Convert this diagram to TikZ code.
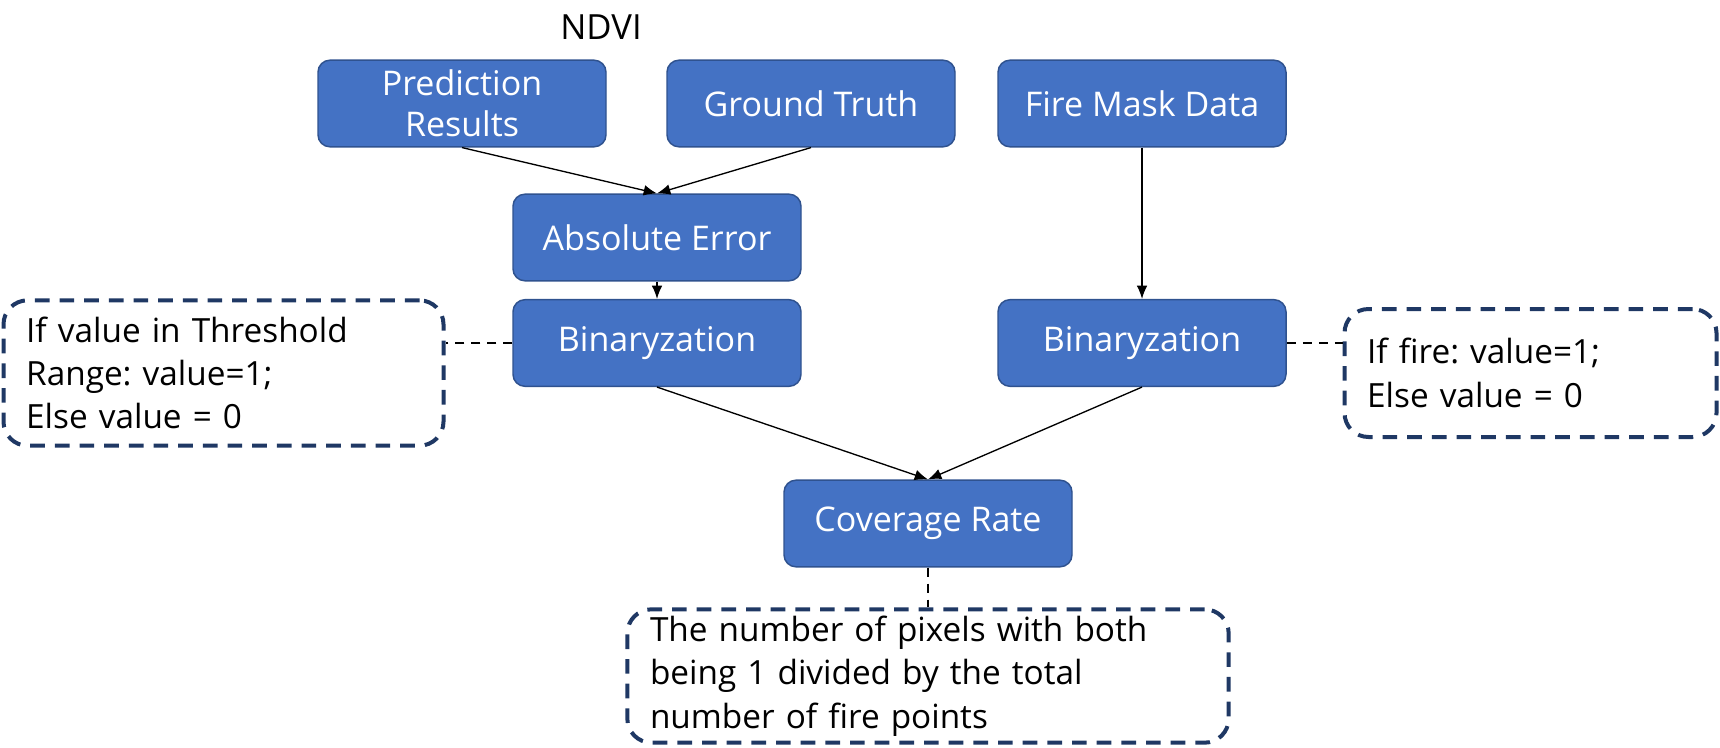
\documentclass[tikz,border=0pt]{standalone}
\usepackage{fontspec}
\setmainfont{Open Sans}
\usetikzlibrary{arrows.meta}
\definecolor{boxblue}{HTML}{4472C4}
\definecolor{boxedge}{HTML}{2F528F}
\definecolor{notenavy}{HTML}{1F3864}
\frenchspacing
\tikzstyle{stepbox}=[rectangle,rounded corners=9pt,draw=boxedge,fill=boxblue,line width=1.1pt,text=white,align=center,minimum width=216pt,minimum height=65pt,inner sep=2pt,font=\fontsize{25.5}{31}\selectfont]
\tikzstyle{notebox}=[rectangle,rounded corners=18pt,draw=notenavy,line width=3pt,dash pattern=on 11pt off 7.5pt,align=left,inner xsep=17pt,inner ysep=2pt,font=\fontsize{25}{32.5}\selectfont]
\tikzstyle{flow}=[line width=1pt,-{Latex[length=10pt,width=8pt]}]
\tikzstyle{link}=[line width=2pt,dash pattern=on 7pt off 5pt]

\begin{document}
\begin{tikzpicture}[x=0.75pt,y=-0.75pt]
		\useasboundingbox (0,0) rectangle (1720,747);
		\node (ndvi) at (601,27) [font=\fontsize{26}{31}\selectfont] {NDVI};
		\node (pred) at (462,103.5) [stepbox] {Prediction\\Results};
		\node (truth) at (811,103.5) [stepbox] {Ground Truth};
		\node (fire) at (1142,103.5) [stepbox] {Fire Mask Data};
		\node (abserr) at (657,237.5) [stepbox] {Absolute Error};
		\node (binl) at (657,343) [stepbox] {Binaryzation};
		\node (binr) at (1142,343) [stepbox] {Binaryzation};
		\node (cover) at (928,523.5) [stepbox] {Coverage Rate};
		
		\node (lnote) at (223.5,373) [notebox,text width=296pt,minimum height=109pt] {If value in Threshold\\Range: value=1;\\Else value = 0};
		\node (rnote) at (1530.5,373) [notebox,text width=245pt,minimum height=96pt] {If fire: value=1;\\Else value = 0};
		\node (bnote) at (928,676) [notebox,text width=417pt,minimum height=100pt] {The number of pixels with both\\being 1 divided by the total\\number of fire points};
		
		\draw [flow] (pred.south)--(abserr.north);
		\draw [flow] (truth.south)--(abserr.north);
		\draw [flow] (abserr.south)--(binl.north);
		\draw [flow] (fire.south)--(binr.north);
		\draw [flow] (binl.south)--(cover.north);
		\draw [flow] (binr.south)--(cover.north);
		\draw [link] (binl.west)--(binl.west -| lnote.east);
		\draw [link] (binr.east)--(binr.east -| rnote.west);
		\draw [link] (cover.south)--(bnote.north);
	\end{tikzpicture}
\end{document}
